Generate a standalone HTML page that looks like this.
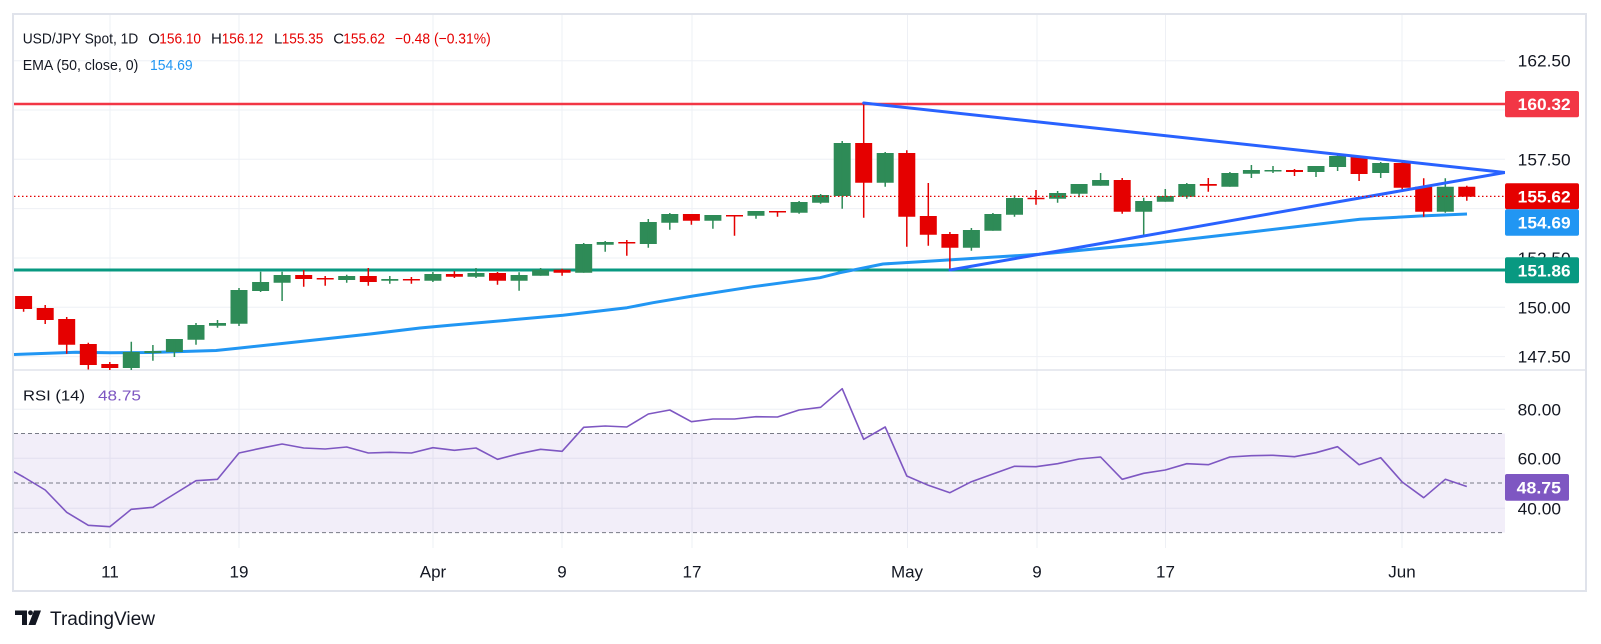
<!DOCTYPE html>
<html><head><meta charset="utf-8"><style>
html,body{margin:0;padding:0;background:#fff;}
body{width:1601px;height:644px;overflow:hidden;}
svg{display:block;font-family:"Liberation Sans",sans-serif;}
</style></head><body>
<svg width="1601" height="644" viewBox="0 0 1601 644" xmlns="http://www.w3.org/2000/svg">
<defs>
<clipPath id="cp"><rect x="14" y="15" width="1491" height="355"/></clipPath>
<clipPath id="cr"><rect x="14" y="371" width="1491" height="177"/></clipPath>
</defs>
<rect x="0" y="0" width="1601" height="644" fill="#fff"/>
<g stroke="#EEF0F5" stroke-width="1">
<path d="M14 60.7H1505M14 110H1505M14 159.3H1505M14 208.6H1505M14 258H1505M14 307.3H1505M14 356.6H1505M14 409.3H1505M14 458.3H1505M14 508.3H1505"/>
<path d="M110 15V548M239 15V548M433 15V548M562 15V548M692 15V548M907.5 15V548M1037 15V548M1165.5 15V548M1402 15V548"/>
</g>
<rect x="14" y="433.5" width="1491" height="99.1" fill="#7E57C2" fill-opacity="0.1"/>
<path d="M14 433.5H1505M14 483H1505M14 532.6H1505" stroke="#787B86" stroke-width="1" stroke-dasharray="4 3"/>
<rect x="13" y="14" width="1573" height="577" fill="none" stroke="#E0E3EB" stroke-width="2"/>
<line x1="14" y1="370" x2="1586" y2="370" stroke="#E0E3EB" stroke-width="1.5"/>
<g clip-path="url(#cp)">
<line x1="14" y1="104" x2="1505" y2="104" stroke="#F23645" stroke-width="2.6"/>
<line x1="14" y1="270" x2="1505" y2="270" stroke="#089981" stroke-width="3"/>
<path d="M14 354.5 L76 352.3 L110 352.7 L150 352.5 L216 350.5 L240 348 L310 340.5 L370 334 L420 328 L450 325.3 L563 315.3 L627 307.7 L653 302.7 L693 296 L753 286.7 L820 277.7 L840 272.7 L883 264 L920 261.7 L1039 254.3 L1146 244 L1253 231.7 L1360 219.3 L1420 216 L1467 214" fill="none" stroke="#2196F3" stroke-width="3" stroke-linejoin="round"/>
<path fill="#E50000" d="M15.1 296h17v13h-17zM36.7 308h17v12h-17zM58.2 319h17v25.7h-17zM79.8 344h17v21h-17zM101.3 364h17v4h-17zM295.2 275h17v4h-17zM316.7 278h17v1.5h-17zM359.8 276h17v6h-17zM402.9 279h17v1.5h-17zM445.9 274h17v2.7h-17zM489 273h17v7.7h-17zM553.6 269.7h17v3h-17zM618.3 242h17v1.5h-17zM682.9 214h17v6.7h-17zM726 215h17v1.5h-17zM769 211h17v1.5h-17zM855.2 143h17v39.7h-17zM898.3 153h17v63.7h-17zM919.8 216h17v18.7h-17zM941.4 234h17v13.7h-17zM1027.5 197.7h17v1.5h-17zM1113.7 180h17v31.7h-17zM1199.8 184h17v1.7h-17zM1286 170h17v2h-17zM1350.6 157h17v17h-17zM1393.7 163h17v24.7h-17zM1415.2 186.7h17v25h-17zM1458.3 186.7h17v10h-17z"/>
<path fill="none" stroke="#E50000" stroke-width="1.5" d="M23.6 296V311.7M45.2 305V324M66.7 317V353.7M88.3 342.7V369.5M109.8 362V370M303.7 270V286.7M325.2 276V285.7M368.3 268V285.7M411.4 277V283.7M454.4 271.3V278M497.5 272V284.7M562.1 268.7V275.7M626.8 240V255.7M691.4 214V224.7M734.5 215V235.7M777.5 211V216.7M863.7 104V217.7M906.8 150.3V246.7M928.3 183V245.7M949.9 232V270M1036 190V204.7M1122.2 178V213.7M1208.3 178V191.7M1294.5 169V176M1359.1 156V181M1402.2 160V190M1423.7 178.3V216.7M1466.8 185.7V200.7"/>
<path fill="#2E8B57" d="M122.8 352h17v16h-17zM144.4 351h17v2h-17zM165.9 339h17v13h-17zM187.5 325h17v14.7h-17zM209 323h17v2.7h-17zM230.5 290h17v33.7h-17zM252.1 282h17v9h-17zM273.6 275h17v7.7h-17zM338.2 276h17v4h-17zM381.3 279h17v1.7h-17zM424.4 274h17v6.7h-17zM467.5 273h17v3.7h-17zM510.6 275h17v5.7h-17zM532.1 269.7h17v6h-17zM575.2 244h17v28.7h-17zM596.7 242h17v2.7h-17zM639.8 222h17v22h-17zM661.3 214h17v8.7h-17zM704.4 215h17v5.7h-17zM747.5 211h17v4.7h-17zM790.6 202h17v10.7h-17zM812.1 195h17v7.7h-17zM833.7 143h17v53h-17zM876.7 153h17v29.7h-17zM962.9 230h17v17.7h-17zM984.4 214h17v16.7h-17zM1006 198h17v16.7h-17zM1049.1 193h17v5.7h-17zM1070.6 184h17v9.7h-17zM1092.1 180h17v5.7h-17zM1135.2 201h17v10.7h-17zM1156.8 196h17v5.7h-17zM1178.3 184h17v12.7h-17zM1221.4 173h17v13.7h-17zM1242.9 170h17v3.7h-17zM1264.5 170h17v1.5h-17zM1307.5 166h17v6h-17zM1329.1 156h17v11h-17zM1372.2 163h17v10h-17zM1436.8 186.7h17v25h-17z"/>
<path fill="none" stroke="#2E8B57" stroke-width="1.5" d="M131.3 341.7V370M152.9 345V360.7M174.4 339V357M196 323V344.7M217.5 320V327.7M239 288V326M260.6 271.7V292M282.1 271.7V301M346.7 274.7V282.7M389.8 276V283.7M432.9 272V282M476 268V278M519.1 272.3V290.7M540.6 268V275.7M583.7 243V272.7M605.2 241V251.7M648.3 219V247.7M669.8 213V229.7M712.9 215V228.7M756 211V218.7M799.1 201V213.7M820.6 194V203.7M842.2 141V208.7M885.2 152V186.7M971.4 228V250.7M992.9 213V230.7M1014.5 195.3V216.7M1057.6 191V202.7M1079.1 184V197.3M1100.6 173V185.7M1143.7 197.7V235.3M1165.3 189V201.7M1186.8 183V198.7M1229.9 172V186.7M1251.4 165V178M1273 166V173M1316 166V177M1337.6 155V171M1380.7 162V178M1445.3 178.3V212.7"/>
<line x1="863.7" y1="103" x2="1505" y2="172.5" stroke="#2962FF" stroke-width="3" stroke-linecap="round"/>
<line x1="950" y1="270" x2="1505" y2="172.5" stroke="#2962FF" stroke-width="3" stroke-linecap="round"/>
<line x1="14" y1="196.4" x2="1505" y2="196.4" stroke="#E50000" stroke-width="1.2" stroke-dasharray="1.5 2.5"/>
</g>
<g clip-path="url(#cr)">
<path fill="none" stroke="#7E57C2" stroke-width="1.6" stroke-linejoin="round" d="M14 471.7 L23.6 477 L45.2 490 L66.7 512.3 L88.3 525.3 L109.8 526.7 L131.3 509.3 L152.9 507.3 L174.4 494 L196 480.7 L217.5 479.3 L239 453 L260.6 448.3 L282.1 444 L303.7 448 L325.2 449 L346.7 447 L368.3 453 L389.8 452.3 L411.4 453 L432.9 447.7 L454.4 450.3 L476 448 L497.5 459.3 L519.1 453.7 L540.6 449.3 L562.1 451.3 L583.7 427.3 L605.2 426 L626.8 427 L648.3 414 L669.8 410 L691.4 421.7 L712.9 419 L734.5 419 L756 416.7 L777.5 417 L799.1 410 L820.6 407.3 L842.2 388.7 L863.7 439.3 L885.2 427 L906.8 476 L928.3 485.3 L949.9 492.7 L971.4 481.7 L992.9 474 L1014.5 466.3 L1036 466.7 L1057.6 463.7 L1079.1 459 L1100.6 457 L1122.2 479.3 L1143.7 473.3 L1165.3 470 L1186.8 463.7 L1208.3 464.7 L1229.9 457 L1251.4 455.7 L1273 455.3 L1294.5 456.7 L1316 452.7 L1337.6 446.7 L1359.1 464.7 L1380.7 457.7 L1402.2 482 L1423.7 497.7 L1445.3 479.3 L1466.8 486.5"/>
</g>
<g font-size="15" fill="#131722">
<text x="22.7" y="43.3" textLength="115.6" lengthAdjust="spacingAndGlyphs">USD/JPY Spot, 1D</text>
<text x="148.3" y="43.3">O</text>
<text x="159.3" y="43.3" fill="#E50000" textLength="41.7" lengthAdjust="spacingAndGlyphs">156.10</text>
<text x="211" y="43.3">H</text>
<text x="221.7" y="43.3" fill="#E50000" textLength="41.6" lengthAdjust="spacingAndGlyphs">156.12</text>
<text x="274" y="43.3">L</text>
<text x="281.7" y="43.3" fill="#E50000" textLength="41.6" lengthAdjust="spacingAndGlyphs">155.35</text>
<text x="333.3" y="43.3">C</text>
<text x="343.3" y="43.3" fill="#E50000" textLength="41.7" lengthAdjust="spacingAndGlyphs">155.62</text>
<text x="395" y="43.3" fill="#E50000" textLength="95.7" lengthAdjust="spacingAndGlyphs">−0.48 (−0.31%)</text>
<text x="22.7" y="70" textLength="115.6" lengthAdjust="spacingAndGlyphs">EMA (50, close, 0)</text>
<text x="150" y="70" fill="#2196F3" textLength="42.7" lengthAdjust="spacingAndGlyphs">154.69</text>
<text x="23" y="400.5" textLength="62" lengthAdjust="spacingAndGlyphs">RSI (14)</text>
<text x="98" y="400.5" fill="#7E57C2" textLength="43" lengthAdjust="spacingAndGlyphs">48.75</text>
</g>
<g font-size="17" fill="#131722">
<text x="1517.7" y="66.7" textLength="53" lengthAdjust="spacingAndGlyphs">162.50</text>
<text x="1517.7" y="165.3" textLength="53" lengthAdjust="spacingAndGlyphs">157.50</text>
<text x="1517.7" y="264" textLength="53" lengthAdjust="spacingAndGlyphs">152.50</text>
<text x="1517.7" y="313.3" textLength="53" lengthAdjust="spacingAndGlyphs">150.00</text>
<text x="1517.7" y="362.6" textLength="53" lengthAdjust="spacingAndGlyphs">147.50</text>
<text x="1517.7" y="415.3" textLength="43.3" lengthAdjust="spacingAndGlyphs">80.00</text>
<text x="1517.7" y="464.3" textLength="43.3" lengthAdjust="spacingAndGlyphs">60.00</text>
<text x="1517.7" y="514.3" textLength="43.3" lengthAdjust="spacingAndGlyphs">40.00</text>
</g>
<rect x="1505" y="91" width="74" height="26.3" rx="2" fill="#F23645"/>
<rect x="1505" y="183.3" width="74" height="26" rx="2" fill="#E50000"/>
<rect x="1505" y="209.3" width="74" height="26.4" rx="2" fill="#2196F3"/>
<rect x="1505" y="257.3" width="74" height="26" rx="2" fill="#089981"/>
<rect x="1505" y="474" width="64" height="26.7" rx="2" fill="#7E57C2"/>
<g font-size="17" fill="#fff" font-weight="bold">
<text x="1517.7" y="110" textLength="53" lengthAdjust="spacingAndGlyphs">160.32</text>
<text x="1517.7" y="202.3" textLength="53" lengthAdjust="spacingAndGlyphs">155.62</text>
<text x="1517.7" y="228.5" textLength="53" lengthAdjust="spacingAndGlyphs">154.69</text>
<text x="1517.7" y="276.3" textLength="53" lengthAdjust="spacingAndGlyphs">151.86</text>
<text x="1516.7" y="493.3" textLength="44.3" lengthAdjust="spacingAndGlyphs">48.75</text>
</g>
<g font-size="17" fill="#131722" text-anchor="middle">
<text x="110" y="577.5">11</text>
<text x="239" y="577.5">19</text>
<text x="433" y="577.5">Apr</text>
<text x="562" y="577.5">9</text>
<text x="692" y="577.5">17</text>
<text x="907" y="577.5">May</text>
<text x="1037" y="577.5">9</text>
<text x="1165.5" y="577.5">17</text>
<text x="1402" y="577.5">Jun</text>
</g>
<path fill="#131722" d="M15 610.5H27V625H22V615H15ZM34 610.5H41L35.5 625H28.5Z"/>
<circle cx="30.5" cy="612.8" r="2.4" fill="#131722"/>
<text x="50" y="625" font-size="19" fill="#131722" textLength="105" lengthAdjust="spacingAndGlyphs">TradingView</text>
</svg>
</body></html>
